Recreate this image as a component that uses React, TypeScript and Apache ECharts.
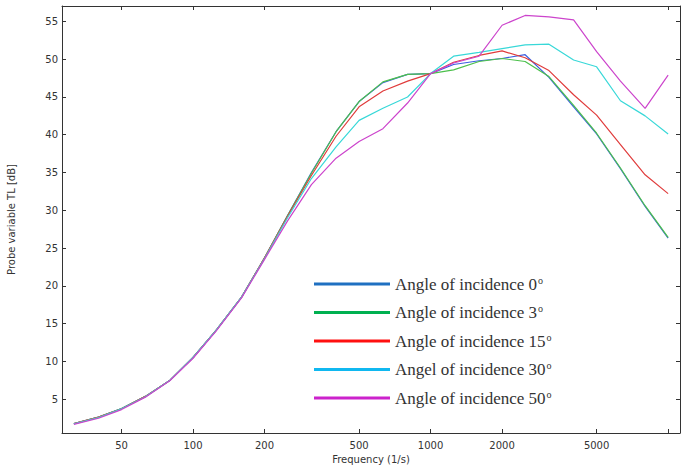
import React, { useEffect, useRef } from 'react';
import * as echarts from 'echarts';

const frequencies = [31.5, 40, 50, 63, 80, 100, 125, 160, 200, 250, 315, 400, 500, 630, 800, 1000, 1250, 1600, 2000, 2500, 3150, 4000, 5000, 6300, 8000, 10000];
const seriesNames = ['Angle of incidence 0', 'Angle of incidence 3', 'Angle of incidence 15', 'Angel of incidence 30', 'Angle of incidence 50'];
const tl0 = [1.75, 2.6, 3.75, 5.35, 7.5, 10.5, 14.1, 18.5, 23.7, 29.3, 35.0, 40.4, 44.4, 46.9, 48.0, 48.1, 49.3, 49.8, 50.1, 50.6, 47.6, 43.7, 40.1, 35.5, 30.5, 26.3];
const tl3 = [1.75, 2.6, 3.75, 5.35, 7.5, 10.5, 14.1, 18.5, 23.7, 29.3, 34.9, 40.4, 44.4, 47.0, 48.0, 48.1, 48.6, 49.7, 50.1, 49.7, 47.7, 43.9, 40.2, 35.6, 30.6, 26.4];
const tl15 = [1.75, 2.6, 3.7, 5.35, 7.5, 10.5, 14.1, 18.5, 23.7, 29.2, 34.6, 39.8, 43.7, 45.8, 47.1, 48.1, 49.6, 50.5, 51.1, 50.2, 48.5, 45.3, 42.6, 38.7, 34.7, 32.2];
const tl30 = [1.7, 2.55, 3.7, 5.3, 7.5, 10.5, 14.1, 18.5, 23.6, 29.0, 34.2, 38.4, 41.9, 43.5, 45.0, 48.1, 50.4, 50.9, 51.4, 51.9, 52.0, 49.9, 49.0, 44.5, 42.5, 40.1];
const tl50 = [1.65, 2.45, 3.6, 5.25, 7.45, 10.4, 14.0, 18.4, 23.5, 28.6, 33.4, 36.9, 39.1, 40.8, 44.2, 48.1, 49.5, 50.4, 54.5, 55.8, 55.6, 55.2, 51.0, 47.1, 43.5, 47.9];
const allSeries = [tl0, tl3, tl15, tl30, tl50];
const lineColors = ['#3b5fe0', '#4cc04c', '#e03c3c', '#38d8d8', '#cc44cc'];
const legendColors = ['#1f70c1', '#00b050', '#ff1010', '#10b8f0', '#cc22cc'];
const xTickValues = [50, 100, 200, 500, 1000, 2000, 5000, 10000];
const xLabelValues = [50, 100, 200, 500, 1000, 2000, 5000];
const yTickValues = [5, 10, 15, 20, 25, 30, 35, 40, 45, 50, 55];

const X_MIN = Math.log10(31.5) - 0.05;
const X_MAX = Math.log10(10000) + 0.05;
const Y_MIN = 0.5;
const Y_MAX = 57.05;

const axisColor = '#333';
const labelFont = { fontFamily: 'DejaVu Sans', fontSize: 10, color: '#333' };

export default function App() {
  const ref = useRef<HTMLDivElement>(null);
  useEffect(() => {
    if (!ref.current) return;
    const chart = echarts.init(ref.current, null, { renderer: 'svg' });
    const lg = (v: number) => Math.log10(v);
    const option: any = {
      animation: false,
      backgroundColor: '#fff',
      grid: { left: 62, right: 2, top: 6, bottom: 33, outerBoundsMode: 'none' },
      legend: {
        orient: 'vertical',
        left: 309,
        top: 270,
        icon: 'rect',
        itemWidth: 76,
        itemHeight: 3,
        itemGap: 11,
        data: seriesNames.map((n, i) => ({ name: n, itemStyle: { color: legendColors[i] } })),
        formatter: (name: string) => `{t|${name}}{s|o}`,
        textStyle: {
          rich: {
            t: { fontFamily: 'Liberation Serif', fontSize: 17, color: '#333', lineHeight: 20 },
            s: { fontFamily: 'Liberation Serif', fontSize: 10, color: '#333', verticalAlign: 'top', padding: [1, 0, 0, 1] },
          },
        },
      },
      xAxis: [
        {
          type: 'value',
          min: X_MIN,
          max: X_MAX,
          position: 'bottom',
          name: 'Frequency (1/s)',
          nameLocation: 'middle',
          nameGap: 20,
          nameTextStyle: labelFont,
          splitLine: { show: false },
          axisLine: { show: true, lineStyle: { color: axisColor, width: 1 } },
          axisTick: { show: true, inside: true, length: 4, customValues: xTickValues.map(lg), lineStyle: { color: axisColor } },
          axisLabel: {
            ...labelFont,
            margin: 7,
            customValues: xLabelValues.map(lg),
            formatter: (v: number) => String(Math.round(Math.pow(10, v))),
          },
        },
        {
          type: 'value',
          min: X_MIN,
          max: X_MAX,
          position: 'top',
          splitLine: { show: false },
          axisLine: { show: true, lineStyle: { color: axisColor, width: 1 } },
          axisTick: { show: true, inside: true, length: 4, customValues: xTickValues.map(lg), lineStyle: { color: axisColor } },
          axisLabel: { show: false },
        },
      ],
      yAxis: [
        {
          type: 'value',
          min: Y_MIN,
          max: Y_MAX,
          position: 'left',
          name: 'Probe variable TL [dB]',
          nameLocation: 'middle',
          nameGap: 46,
          nameTextStyle: labelFont,
          splitLine: { show: false },
          axisLine: { show: true, lineStyle: { color: axisColor, width: 1 } },
          axisTick: { show: true, inside: true, length: 4, customValues: yTickValues, lineStyle: { color: axisColor } },
          axisLabel: { ...labelFont, margin: 4, customValues: yTickValues },
        },
        {
          type: 'value',
          min: Y_MIN,
          max: Y_MAX,
          position: 'right',
          splitLine: { show: false },
          axisLine: { show: true, lineStyle: { color: axisColor, width: 1 } },
          axisTick: { show: true, inside: true, length: 4, customValues: yTickValues, lineStyle: { color: axisColor } },
          axisLabel: { show: false },
        },
      ],
      series: allSeries.map((vals, i) => ({
        name: seriesNames[i],
        type: 'line',
        xAxisIndex: 0,
        yAxisIndex: 0,
        showSymbol: false,
        symbol: 'none',
        lineStyle: { color: lineColors[i], width: 1.2 },
        itemStyle: { color: lineColors[i] },
        data: frequencies.map((f, j) => [Math.log10(f), vals[j]]),
      })),
    };
    chart.setOption(option);
    return () => chart.dispose();
  }, []);
  return <div ref={ref} style={{ position: 'fixed', left: 0, top: 0, width: 682, height: 466 }} />;
}
